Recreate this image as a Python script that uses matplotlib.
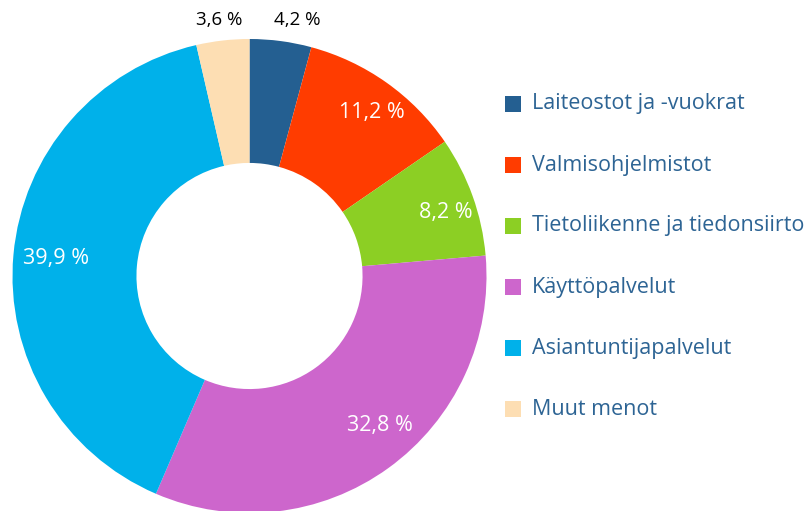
import matplotlib.pyplot as plt
from matplotlib.patches import Rectangle

# Data
categories = ["Laiteostot ja -vuokrat", "Valmisohjelmistot", "Tietoliikenne ja tiedonsiirto",
              "Käyttöpalvelut", "Asiantuntijapalvelut", "Muut menot"]
shares = [4.2, 11.2, 8.2, 32.8, 39.9, 3.6]
colors = ["#245f91", "#ff3c00", "#8ccf24", "#cd66cc", "#00b1ea", "#fddeb3"]
label_colors = ["black", "white", "white", "white", "white", "black"]
label_sizes = [13.5, 15.5, 15.5, 15.5, 15.5, 13.5]
# label positions (x, y) in the pie's data units, radius = 1
label_pos = [(0.203, 1.08), (0.517, 0.688), (0.827, 0.266), (0.55, -0.629), (-0.816, 0.072), (-0.127, 1.08)]

plt.rcParams['font.family'] = ['Open Sans', 'DejaVu Sans']

fig = plt.figure(figsize=(8.09, 5.11), dpi=100)
W, H = 809, 511
cx, cy, R = 249.5, 276, 237
ax = fig.add_axes([(cx - R) / W, (H - cy - R) / H, 2 * R / W, 2 * R / H])

ax.pie(shares, colors=colors, startangle=90, counterclock=False, radius=1,
       wedgeprops=dict(width=0.523, linewidth=0))
ax.set_xlim(-1, 1)
ax.set_ylim(-1, 1)
ax.set_aspect('equal')
ax.axis('off')

for val, (x, y), c, fs in zip(shares, label_pos, label_colors, label_sizes):
    ax.text(x, y, f"{val:.1f} %".replace(".", ","), color=c, fontsize=fs,
            ha='center', va='center', clip_on=False)

# Legend drawn manually
text_color = "#2d6494"
y0, step = 104, 61
for i, (name, c) in enumerate(zip(categories, colors)):
    yc = y0 + i * step
    fig.add_artist(Rectangle((505 / W, (H - yc - 8) / H), 16 / W, 16 / H,
                             transform=fig.transFigure, facecolor=c, edgecolor='none'))
    fig.text(532 / W, (H - yc) / H, name, color=text_color, fontsize=15.5,
             ha='left', va='center')

plt.savefig("out.png", dpi=100)
